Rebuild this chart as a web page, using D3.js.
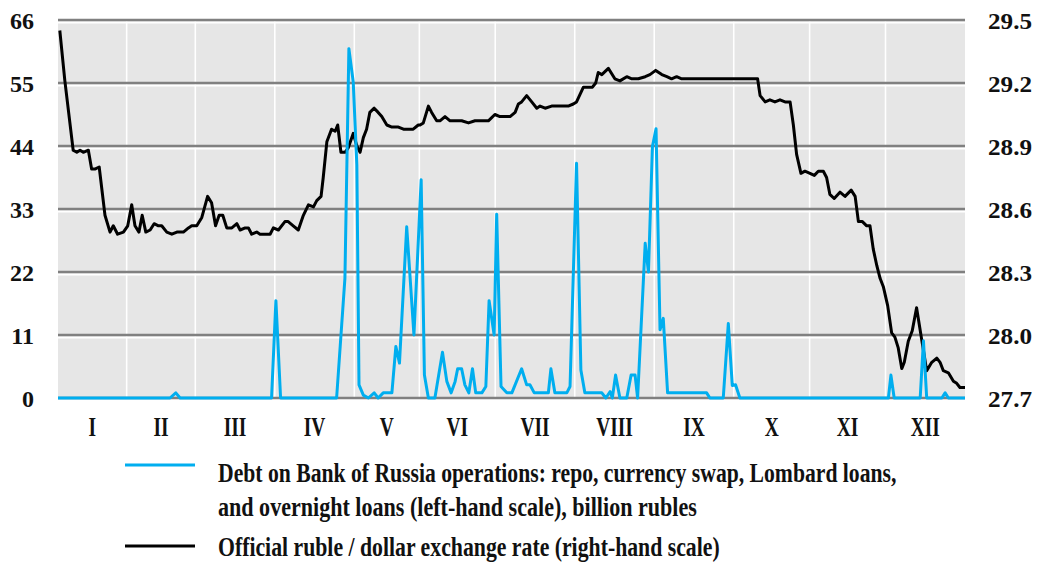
<!DOCTYPE html>
<html>
<head>
<meta charset="utf-8">
<script src="https://cdn.jsdelivr.net/npm/d3@7"></script>
<style>
  html, body { margin: 0; padding: 0; background: #fff; }
  svg { display: block; }
  text { font-family: "Liberation Serif", "Times New Roman", serif; fill: #111; }
</style>
</head>
<body>
<svg id="chart" width="1038" height="563"></svg>
<script>
// ---- data ----
const months = ["I","II","III","IV","V","VI","VII","VIII","IX","X","XI","XII"];
const monthTradingDays = [19,19,22,22,18,21,22,22,22,21,21,22];
const leftTicks = [0,11,22,33,44,55,66];
const rightTicks = [27.7,28.0,28.3,28.6,28.9,29.2,29.5];
const rightTickLabels = ["27.7","28.0","28.3","28.6","28.9","29.2","29.5"];

// Official ruble/dollar exchange rate (trading-day index, rubles per dollar)
const rateDay = [0.5,1.9,4.2,5.2,6.1,7.0,8.4,9.3,10.2,11.4,13.0,14.4,15.3,16.5,18.1,19.3,20.4,21.3,22.4,23.3,24.3,25.5,26.6,27.8,28.7,30.1,31.5,32.9,34.7,36.1,37.0,38.4,39.8,41.4,42.5,43.6,44.6,45.6,46.7,48.1,49.5,50.4,51.8,52.7,53.6,55.0,55.9,57.3,58.7,59.6,61.0,62.8,63.7,65.1,66.5,67.9,69.3,70.7,71.6,72.8,73.4,74.4,75.7,76.7,77.4,78.3,79.4,80.3,81.7,82.7,83.6,84.5,85.4,86.3,87.5,88.6,89.6,91.0,92.4,94.2,95.6,96.9,98.3,99.7,100.2,101.1,102.5,103.4,104.8,105.7,107.1,108.5,109.9,111.7,113.6,115.4,117.3,119.1,120.9,122.3,123.7,125.1,126.5,127.4,128.3,129.7,131.1,132.5,133.4,134.8,136.6,138.0,139.4,141.2,142.6,143.5,145.4,146.8,147.9,148.8,149.5,150.5,152.3,154.1,155.5,157.4,158.8,160.6,162.5,163.8,165.4,167.1,168.5,169.8,171.2,172.6,174.0,176.3,179.1,181.8,184.6,187.4,190.1,192.1,193.6,194.3,195.7,197.0,198.4,199.8,201.2,202.6,203.5,204.4,205.6,206.7,208.1,209.3,210.4,211.8,212.7,213.6,214.8,216.4,217.8,219.5,220.6,221.5,222.6,223.8,224.7,225.6,226.6,227.5,228.4,229.6,230.7,231.6,232.5,233.5,234.2,235.3,236.4,237.6,239.0,240.4,241.8,243.2,244.1,245.0,246.4,247.8,248.7,249.6,251.0];
const rateVal = [29.45,29.21,28.88,28.87,28.88,28.87,28.88,28.79,28.79,28.80,28.57,28.49,28.52,28.48,28.49,28.52,28.62,28.52,28.49,28.57,28.49,28.50,28.53,28.52,28.52,28.49,28.48,28.49,28.49,28.51,28.52,28.52,28.56,28.66,28.63,28.52,28.57,28.57,28.51,28.51,28.53,28.50,28.51,28.51,28.48,28.49,28.48,28.48,28.48,28.51,28.50,28.54,28.54,28.52,28.50,28.57,28.62,28.61,28.64,28.66,28.75,28.92,28.98,28.97,29.00,28.87,28.87,28.89,28.96,28.90,28.87,28.94,28.98,29.06,29.08,29.06,29.04,29.00,28.99,28.99,28.98,28.98,28.98,29.00,29.00,29.01,29.09,29.06,29.02,29.02,29.04,29.02,29.02,29.02,29.01,29.02,29.02,29.02,29.05,29.04,29.04,29.04,29.06,29.10,29.11,29.14,29.11,29.08,29.09,29.08,29.09,29.09,29.09,29.09,29.10,29.11,29.18,29.18,29.18,29.20,29.25,29.24,29.27,29.22,29.21,29.23,29.22,29.22,29.23,29.24,29.26,29.24,29.23,29.22,29.23,29.22,29.22,29.22,29.22,29.22,29.22,29.22,29.22,29.22,29.22,29.14,29.11,29.12,29.11,29.12,29.11,29.11,29.00,28.86,28.77,28.78,28.77,28.76,28.78,28.78,28.75,28.67,28.65,28.68,28.66,28.69,28.66,28.54,28.54,28.52,28.52,28.41,28.33,28.27,28.23,28.14,28.01,27.99,27.94,27.84,27.87,27.97,28.02,28.13,27.98,27.83,27.87,27.89,27.87,27.83,27.82,27.78,27.77,27.75,27.75];

// Debt on Bank of Russia operations (trading-day index, billion rubles)
const debtDay = [0,31.0,32.6,33.8,59.1,60.3,61.6,77.1,79.4,80.5,81.7,82.7,83.3,84.5,85.9,87.5,88.6,90.0,92.4,93.5,94.5,96.5,98.5,100.5,101.4,102.5,104.3,106.4,107.6,108.8,109.9,110.6,111.7,112.6,113.7,114.7,115.6,117.3,118.4,119.3,120.7,121.4,122.6,124.2,125.6,128.3,129.7,130.6,131.8,135.7,136.4,137.5,140.8,141.7,143.5,144.7,145.8,150.5,151.6,152.8,153.4,154.3,155.5,157.4,158.6,159.7,160.4,162.5,163.4,164.5,165.5,166.6,167.5,168.7,179.5,180.4,184.1,185.5,186.6,187.5,188.7,229.8,230.5,231.4,238.6,239.5,240.4,244.6,245.5,246.4,251];
const debtVal = [0,0,0.9,0,0,17.0,0,0,20.9,61.0,55.2,40.7,2.3,0.5,0,0.9,0,0.9,0.9,9.0,6.1,29.9,11.0,38.1,4.0,0,0,8.0,2.9,0.9,2.9,5.1,5.1,2.3,0.9,5.1,0.9,0.9,2.0,17.0,11.0,32.1,2.0,0.9,0.9,5.1,2.3,2.3,0.9,0.9,5.1,0.9,0.9,2.0,41.0,4.9,0.9,0.9,0,1.1,0,4.0,0,0,4.0,4.0,0,27.0,22.0,43.9,47.0,11.9,13.9,0.9,0.9,0,0,13.0,2.2,2.3,0,0,4.0,0,0,10.0,0,0,0.9,0,0];

// ---- layout ----
const svg = d3.select("#chart");
const plot = { left: 58, right: 965, top: 20, bottom: 398 };
const totalDays = d3.sum(monthTradingDays);
const monthStart = [0];
monthTradingDays.forEach((d, i) => monthStart.push(monthStart[i] + d));

const x = d3.scaleLinear().domain([0, totalDays]).range([plot.left, plot.right]);
const yL = d3.scaleLinear().domain([0, 66]).range([plot.bottom, plot.top]);
const yR = d3.scaleLinear().domain([27.7, 29.5]).range([plot.bottom, plot.top]);

// background
svg.append("rect")
  .attr("x", plot.left).attr("y", plot.top)
  .attr("width", plot.right - plot.left).attr("height", plot.bottom - plot.top)
  .attr("fill", "#e6e6e6");

// vertical white month separators
svg.append("g").selectAll("line")
  .data(monthStart.slice(1, -1))
  .join("line")
  .attr("x1", d => x(d)).attr("x2", d => x(d))
  .attr("y1", plot.top).attr("y2", plot.bottom)
  .attr("stroke", "#ffffff").attr("stroke-width", 1.6);

// horizontal gridlines (gray with white highlight below)
const grid = svg.append("g");
grid.selectAll("line.hl")
  .data(leftTicks.filter(d => d !== 0))
  .join("line").attr("class", "hl")
  .attr("x1", plot.left).attr("x2", plot.right)
  .attr("y1", d => yL(d) + 2.6).attr("y2", d => yL(d) + 2.6)
  .attr("stroke", "#ffffff").attr("stroke-width", 2);
grid.selectAll("line.gl")
  .data(leftTicks)
  .join("line").attr("class", "gl")
  .attr("x1", plot.left).attr("x2", plot.right)
  .attr("y1", d => yL(d)).attr("y2", d => yL(d))
  .attr("stroke", "#808080").attr("stroke-width", 2.6);

// lines
const rateLine = d3.line().x(d => x(d[0])).y(d => yR(d[1]));
const debtLine = d3.line().x(d => x(d[0])).y(d => yL(d[1]));

svg.append("path")
  .datum(rateDay.map((d, i) => [d, rateVal[i]]))
  .attr("d", rateLine)
  .attr("fill", "none").attr("stroke", "#000").attr("stroke-width", 3)
  .attr("stroke-linejoin", "round");

svg.append("path")
  .datum(debtDay.map((d, i) => [d, debtVal[i]]))
  .attr("d", debtLine)
  .attr("fill", "none").attr("stroke", "#00aeef").attr("stroke-width", 3)
  .attr("stroke-linejoin", "round");

// left axis
const gL = svg.append("g").attr("transform", "translate(34,0)")
  .call(d3.axisLeft(yL).tickValues(leftTicks).tickSize(0).tickPadding(0).tickFormat(d3.format("d")));
gL.select(".domain").remove();
gL.selectAll("text")
  .attr("font-family", "Liberation Serif").attr("font-weight", "bold")
  .attr("font-size", 24).attr("fill", "#111").attr("dy", "0.34em");

// right axis
const gR = svg.append("g").attr("transform", "translate(988,0)")
  .call(d3.axisRight(yR).tickValues(rightTicks).tickSize(0).tickPadding(0)
    .tickFormat((d, i) => rightTickLabels[i]));
gR.select(".domain").remove();
gR.selectAll("text")
  .attr("font-family", "Liberation Serif").attr("font-weight", "bold")
  .attr("font-size", 24).attr("fill", "#111").attr("dy", "0.34em")
  .each(function() {
    const w = this.getComputedTextLength();
    const f = Math.min(1.15, 44 / w);
    d3.select(this).attr("transform", `scale(${f},1)`);
  });

// month labels
const monthMid = months.map((m, i) => (monthStart[i] + monthStart[i + 1]) / 2);
const xMonth = d3.scaleOrdinal().domain(months).range(monthMid.map(d => x(d)));
const gM = svg.append("g").attr("transform", "translate(0,436)");
gM.selectAll("text")
  .data(months)
  .join("text")
  .attr("transform", d => `translate(${xMonth(d)},0) scale(0.72,1)`)
  .attr("text-anchor", "middle")
  .attr("font-weight", "bold")
  .attr("font-size", 27)
  .text(d => d);

// legend
const legend = svg.append("g");
const legendItems = [
  { color: "#00aeef", lineY: 465, lines: [
    { text: "Debt on Bank of Russia operations: repo, currency swap, Lombard loans,", y: 482, w: 679 },
    { text: "and overnight loans (left-hand scale), billion rubles", y: 516, w: 479 } ] },
  { color: "#000000", lineY: 546, lines: [
    { text: "Official ruble / dollar exchange rate (right-hand scale)", y: 556, w: 502 } ] }
];
legendItems.forEach(item => {
  legend.append("line")
    .attr("x1", 125).attr("x2", 195)
    .attr("y1", item.lineY).attr("y2", item.lineY)
    .attr("stroke", item.color).attr("stroke-width", 3);
  item.lines.forEach(l => {
    const t = legend.append("text")
      .attr("x", 0).attr("y", 0)
      .attr("font-weight", "bold")
      .attr("font-size", 28)
      .text(l.text);
    const w = t.node().getComputedTextLength();
    t.attr("transform", `translate(218,${l.y}) scale(${l.w / w},1)`);
  });
});
</script>
</body>
</html>
